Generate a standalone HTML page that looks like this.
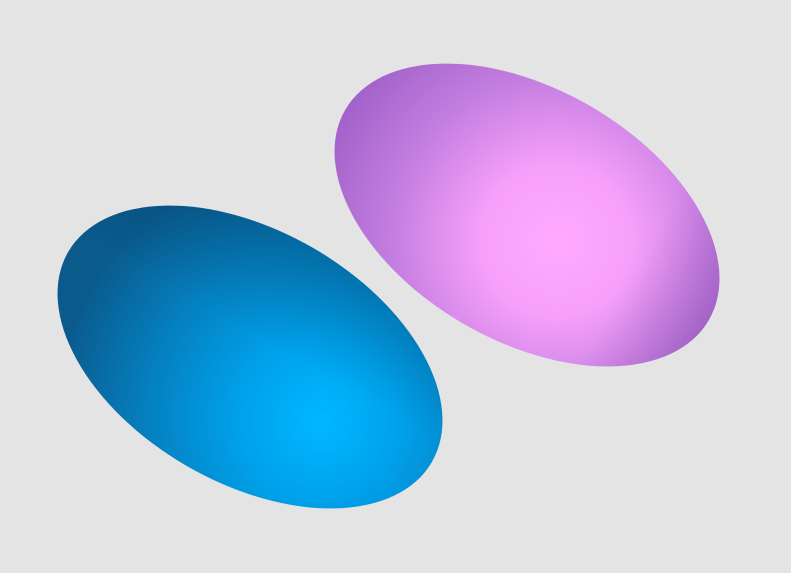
<!DOCTYPE html>
<html><head><meta charset="utf-8"><style>
html,body{margin:0;padding:0;background:#e4e4e4;}
svg{display:block;}
</style></head><body>
<svg width="791" height="573" viewBox="0 0 791 573">
<defs>
<radialGradient id="gb" gradientUnits="userSpaceOnUse" cx="85" cy="20" r="260" fx="95" fy="20">
<stop offset="0" stop-color="#00b8ff"/>
<stop offset="0.3" stop-color="#00a2ec"/>
<stop offset="0.65" stop-color="#0580c0"/>
<stop offset="1" stop-color="#0a5a8c"/>
</radialGradient>
<radialGradient id="gp" gradientUnits="userSpaceOnUse" cx="35" cy="8" r="250" fx="40" fy="8">
<stop offset="0" stop-color="#ffaaff"/>
<stop offset="0.3" stop-color="#f6a0fa"/>
<stop offset="0.65" stop-color="#c47ee0"/>
<stop offset="1" stop-color="#a060c8"/>
</radialGradient>
<linearGradient id="shb" gradientUnits="userSpaceOnUse" x1="0" y1="-20" x2="0" y2="-126">
<stop offset="0" stop-color="#003050" stop-opacity="0"/>
<stop offset="1" stop-color="#003050" stop-opacity="0.25"/>
</linearGradient>
<linearGradient id="shp" gradientUnits="userSpaceOnUse" x1="120" y1="0" x2="210" y2="0">
<stop offset="0" stop-color="#502080" stop-opacity="0"/>
<stop offset="1" stop-color="#502080" stop-opacity="0.25"/>
</linearGradient>
</defs>
<g transform="translate(250,357) rotate(30)">
<ellipse rx="210" ry="126" fill="url(#gb)"/>
<ellipse rx="210" ry="126" fill="url(#shb)"/>
</g>
<g transform="translate(527,215) rotate(30)">
<ellipse rx="210" ry="126" fill="url(#gp)"/>
<ellipse rx="210" ry="126" fill="url(#shp)"/>
</g>
</svg>
</body></html>
